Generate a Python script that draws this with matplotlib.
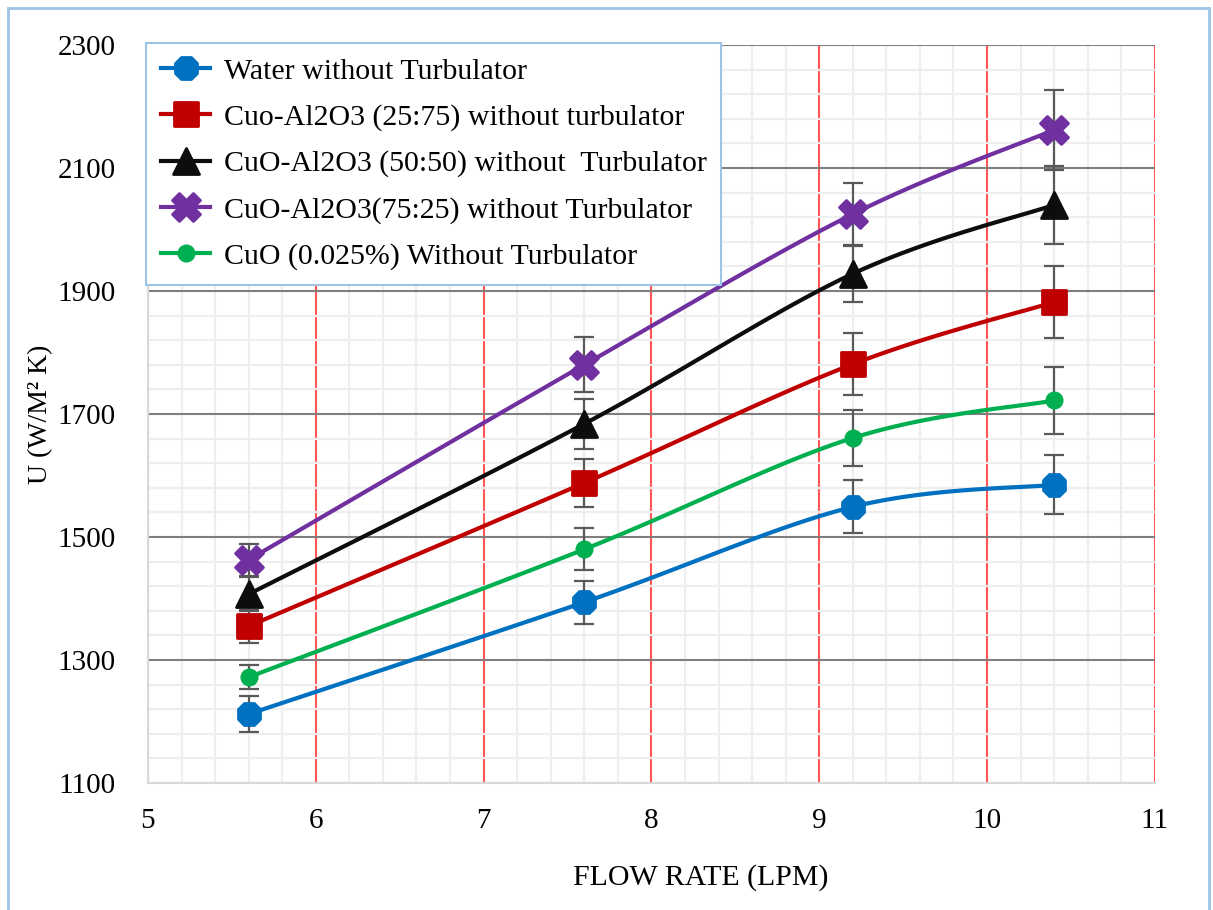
import numpy as np
import matplotlib.pyplot as plt
from matplotlib.patches import Rectangle
from matplotlib.markers import MarkerStyle
from matplotlib.ticker import MultipleLocator

plt.rcParams['font.family'] = ['Liberation Serif', 'DejaVu Serif']

flow = [5.6, 7.6, 9.2, 10.4]

water = [1212, 1394, 1549, 1585]
cu_al_25 = [1355, 1588, 1781, 1882]
cu_al_50 = [1407, 1684, 1928, 2040]
cu_al_75 = [1463, 1780, 2025, 2162]
cuo = [1272, 1480, 1661, 1722]

water_err = [29, 35, 43, 48]
cu_al_25_err = [27, 39, 50, 58]
cu_al_50_err = [28, 41, 46, 63]
cu_al_75_err = [26, 45, 50, 65]
cuo_err = [20, 34, 46, 54]

labels = ["Water without Turbulator",
          "Cuo-Al2O3 (25:75) without turbulator",
          "CuO-Al2O3 (50:50) without  Turbulator",
          "CuO-Al2O3(75:25) without Turbulator",
          "CuO (0.025%) Without Turbulator"]


def smooth(xs, ys, n=40):
    # excel style smoothed line (bezier through the points)
    p = np.column_stack([xs, ys]).astype(float)
    out = []
    for i in range(len(p) - 1):
        p0 = p[i - 1] if i > 0 else p[i]
        p1 = p[i]
        p2 = p[i + 1]
        p3 = p[i + 2] if i + 2 < len(p) else p[i + 1]
        c1 = p1 + (p2 - p0) / 6
        c2 = p2 - (p3 - p1) / 6
        t = np.linspace(0, 1, n)[:, None]
        seg = ((1 - t) ** 3 * p1 + 3 * (1 - t) ** 2 * t * c1
               + 3 * (1 - t) * t ** 2 * c2 + t ** 3 * p2)
        out.append(seg if i == 0 else seg[1:])
    out = np.vstack(out)
    return out[:, 0], out[:, 1]


fig = plt.figure(figsize=(12.13, 9.10), dpi=100)
ax = fig.add_axes([0.122, 0.1396, 0.830, 0.8109])

ax.set_xlim(5, 11)
ax.set_ylim(1100, 2300)
ax.xaxis.set_major_locator(MultipleLocator(1))
ax.xaxis.set_minor_locator(MultipleLocator(0.2))
ax.set_yticks(np.arange(1100, 2301, 200))
ax.yaxis.set_minor_locator(MultipleLocator(40, offset=20))

ax.grid(which='minor', color='#EEEEEE', lw=1.6, zorder=0)
ax.grid(which='major', axis='y', color='#7F7F7F', lw=1.5, zorder=0.5)
ax.grid(which='major', axis='x', color='#FF5555', lw=1.5, zorder=0.5)
ax.tick_params(which='both', length=0)
ax.tick_params(axis='y', pad=23, labelsize=21)
ax.tick_params(axis='x', pad=18, labelsize=21)
for s in ['left', 'bottom']:
    ax.spines[s].set_color('#D9D9D9')
    ax.spines[s].set_linewidth(1.5)
ax.spines['top'].set_visible(False)
ax.spines['right'].set_visible(False)

series = [
    (water, water_err, '#0070C0', '8', 17),
    (cu_al_25, cu_al_25_err, '#C00000', 's', 17),
    (cu_al_50, cu_al_50_err, '#0D0D0D', '^', 19),
    (cu_al_75, cu_al_75_err, '#7030A0', 'X', 20),
    (cuo, cuo_err, '#00B050', 'o', 11),
]

handles = []
for (vals, err, col, mk, ms), lab in zip(series, labels):
    m = MarkerStyle(mk, joinstyle='round')
    ax.errorbar(flow, vals, yerr=err, fmt='none', ecolor='#595959',
                elinewidth=1.6, capsize=7, capthick=1.6, zorder=2)
    sx, sy = smooth(flow, vals)
    ax.plot(sx, sy, color=col, lw=3, zorder=3)
    ax.plot(flow, vals, ls='none', marker=m, ms=ms, color=col,
            mec=col, mew=2, zorder=4)
    handles.append(plt.Line2D([], [], color=col, lw=3, marker=m,
                              ms=ms, mec=col, mew=2))

leg = ax.legend(handles, labels, loc='upper left', bbox_to_anchor=(-0.002, 1.003),
                borderaxespad=0, fontsize=21.5, frameon=True, fancybox=False,
                handlelength=1.65, handletextpad=0.45, labelspacing=0.64,
                borderpad=0.5)
leg.get_frame().set_edgecolor('#9DC3E6')
leg.get_frame().set_linewidth(1.5)
leg.get_frame().set_alpha(1)
leg.set_zorder(10)

# axis title sits a bit right of centre in the original
ax.set_xlabel('FLOW RATE (LPM)', fontsize=21.5, labelpad=22, x=0.549)
ax.set_ylabel('U (W/M² K)', fontsize=20, labelpad=3)

fig.patches.append(Rectangle((8 / 1213, -0.01), 1201 / 1213, 1.0 - 8 / 910 + 0.01,
                             transform=fig.transFigure, fill=False,
                             edgecolor='#9DC3E6', lw=2))

fig.savefig('out.png', dpi=100)
